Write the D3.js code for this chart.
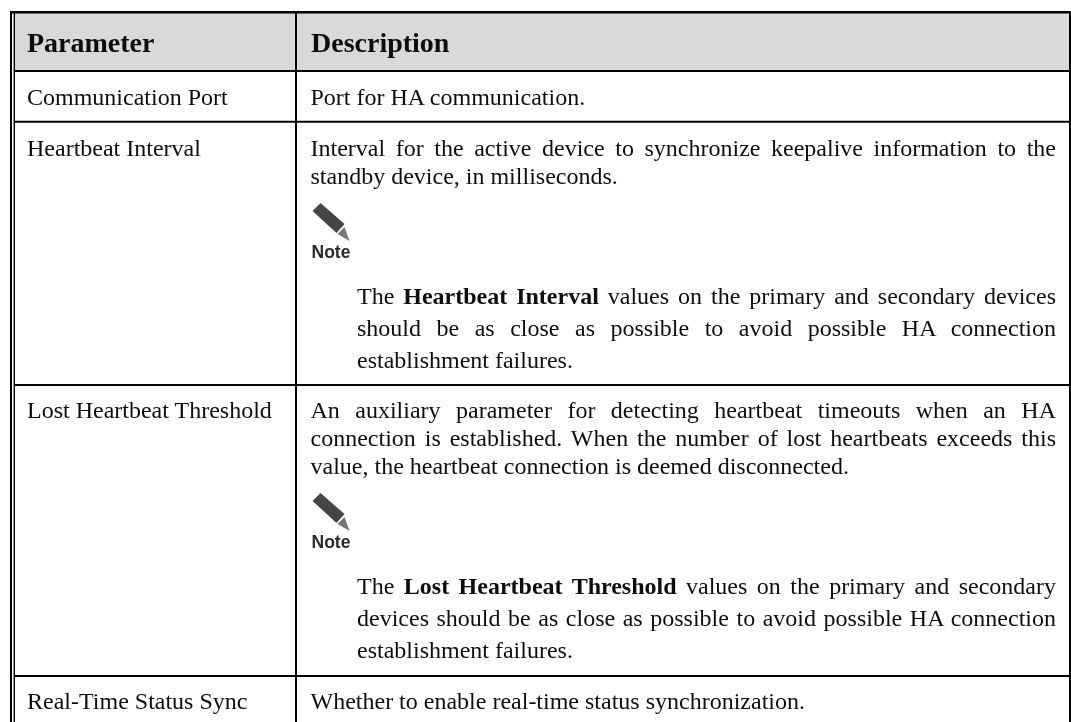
<!DOCTYPE html>
<html>
<head>
<meta charset="UTF-8">
<title>Parameter table</title>
<script src="https://cdnjs.cloudflare.com/ajax/libs/d3/7.8.5/d3.min.js"></script>
<style>
  html, body { margin: 0; padding: 0; background: #fff; }
  svg { display: block; }
  text { font-family: "Liberation Serif", serif; fill: #111; }
</style>
</head>
<body>
<svg id="chart" width="1071" height="722"></svg>
<script>
const headers = ['Parameter', 'Description'];
const parameters = ['Communication Port', 'Heartbeat Interval', 'Lost Heartbeat Threshold', 'Real-Time Status Sync'];

// each entry: one line of the description cell, t = text kind
const descPort = [
  { t: 'plain', parts: [['Port for HA communication.', 0]] }
];
const descInterval = [
  { t: 'just', parts: [['Interval for the active device to synchronize keepalive information to the', 0]] },
  { t: 'plain', parts: [['standby device, in milliseconds.', 0]] },
  { t: 'note' },
  { t: 'justIn', parts: [['The ', 0], ['Heartbeat Interval', 1], [' values on the primary and secondary devices', 0]] },
  { t: 'justIn', parts: [['should be as close as possible to avoid possible HA connection', 0]] },
  { t: 'in', parts: [['establishment failures.', 0]] }
];
const descLost = [
  { t: 'just', parts: [['An auxiliary parameter for detecting heartbeat timeouts when an HA', 0]] },
  { t: 'just', parts: [['connection is established. When the number of lost heartbeats exceeds this', 0]] },
  { t: 'plain', parts: [['value, the heartbeat connection is deemed disconnected.', 0]] },
  { t: 'note' },
  { t: 'justIn', parts: [['The ', 0], ['Lost Heartbeat Threshold', 1], [' values on the primary and secondary', 0]] },
  { t: 'justIn', parts: [['devices should be as close as possible to avoid possible HA connection', 0]] },
  { t: 'in', parts: [['establishment failures.', 0]] }
];
const descSync = [
  { t: 'plain', parts: [['Whether to enable real-time status synchronization.', 0]] }
];
const descriptions = [descPort, descInterval, descLost, descSync];

const W = 1071, H = 722;
const svg = d3.select('#chart');

// the reference is a scanned-looking bitmap, so soften the text a bit
const defs = svg.append('defs');
defs.append('filter').attr('id', 'soft').append('feGaussianBlur').attr('stdDeviation', 0.35);
defs.append('filter').attr('id', 'softer').append('feGaussianBlur').attr('stdDeviation', 0.7);

// table frame
const frameLeft = 10, frameRight = 1070, frameTop = 12.2, colX = 296;
const rowLines = [71, 121.7, 385, 676];
const bodySize = 24, headSize = 28, pitch = 28, notePitch = 32;

svg.append('rect').attr('x', 15).attr('y', frameTop).attr('width', frameRight - 15).attr('height', rowLines[0] - frameTop).attr('fill', '#d9d9d9');

const g = svg.append('g').attr('stroke', '#000');
g.append('line').attr('x1', frameLeft).attr('x2', W).attr('y1', frameTop).attr('y2', frameTop).attr('stroke-width', 2.5);
g.selectAll('.row').data(rowLines).enter().append('line')
  .attr('x1', 14).attr('x2', W).attr('y1', d => d).attr('y2', d => d).attr('stroke-width', 2);
g.append('line').attr('x1', 11).attr('x2', 11).attr('y1', frameTop - 1.2).attr('y2', H).attr('stroke-width', 2);
g.append('line').attr('x1', 14.3).attr('x2', 14.3).attr('y1', frameTop).attr('y2', H).attr('stroke-width', 1.4);
g.append('line').attr('x1', colX).attr('x2', colX).attr('y1', frameTop).attr('y2', H).attr('stroke-width', 2);
g.append('line').attr('x1', frameRight).attr('x2', frameRight).attr('y1', frameTop - 1.2).attr('y2', H).attr('stroke-width', 2);

const textLayer = svg.append('g').attr('filter', 'url(#soft)');

// header
textLayer.selectAll('.head').data(headers).enter().append('text')
  .attr('x', (d, i) => i === 0 ? 27 : 311)
  .attr('y', 51.7)
  .attr('font-size', headSize).attr('font-weight', 'bold')
  .text(d => d);

const firstBase = [105, 156, 418, 709];
textLayer.selectAll('.param').data(parameters).enter().append('text')
  .attr('x', 27).attr('y', (d, i) => firstBase[i])
  .attr('font-size', bodySize).text(d => d);

const textX = 310.5, indentX = 357, textEnd = 1056;

function drawNote(x, y) {
  const n = svg.append('g').attr('transform', `translate(${x},${y})`);
  const pencil = n.append('g').attr('filter', 'url(#softer)');
  pencil.append('polygon').attr('points', '1,8 9,0 33,21 25,30').attr('fill', '#444');
  pencil.append('polygon').attr('points', '26,31 33,24 38,38').attr('fill', '#777');
  n.append('text').attr('x', 0).attr('y', 55).attr('font-size', 17.5).attr('font-weight', 'bold')
    .attr('filter', 'url(#soft)')
    .style('font-family', '"Liberation Sans", sans-serif').style('fill', '#2a2a2a').text('Note');
}

function drawCell(lines, y0) {
  let y = y0;
  lines.forEach(line => {
    if (line.t === 'note') {
      drawNote(textX + 1, y - 9);
      y += 91.5;
      return;
    }
    const indented = line.t === 'in' || line.t === 'justIn';
    const x = indented ? indentX : textX;
    const el = textLayer.append('text').attr('x', x).attr('y', y).attr('font-size', bodySize).style('white-space', 'pre');
    el.selectAll('tspan').data(line.parts).enter().append('tspan')
      .attr('font-weight', d => d[1] ? 'bold' : 'normal').text(d => d[0]);
    if (line.t === 'just' || line.t === 'justIn') {
      const gaps = line.parts.map(d => d[0]).join('').split(' ').length - 1;
      const extra = (textEnd - x - el.node().getComputedTextLength()) / gaps;
      el.style('word-spacing', extra + 'px');
    }
    y += indented ? notePitch : pitch;
  });
}

descriptions.forEach((d, i) => drawCell(d, firstBase[i]));
</script>
</body>
</html>
